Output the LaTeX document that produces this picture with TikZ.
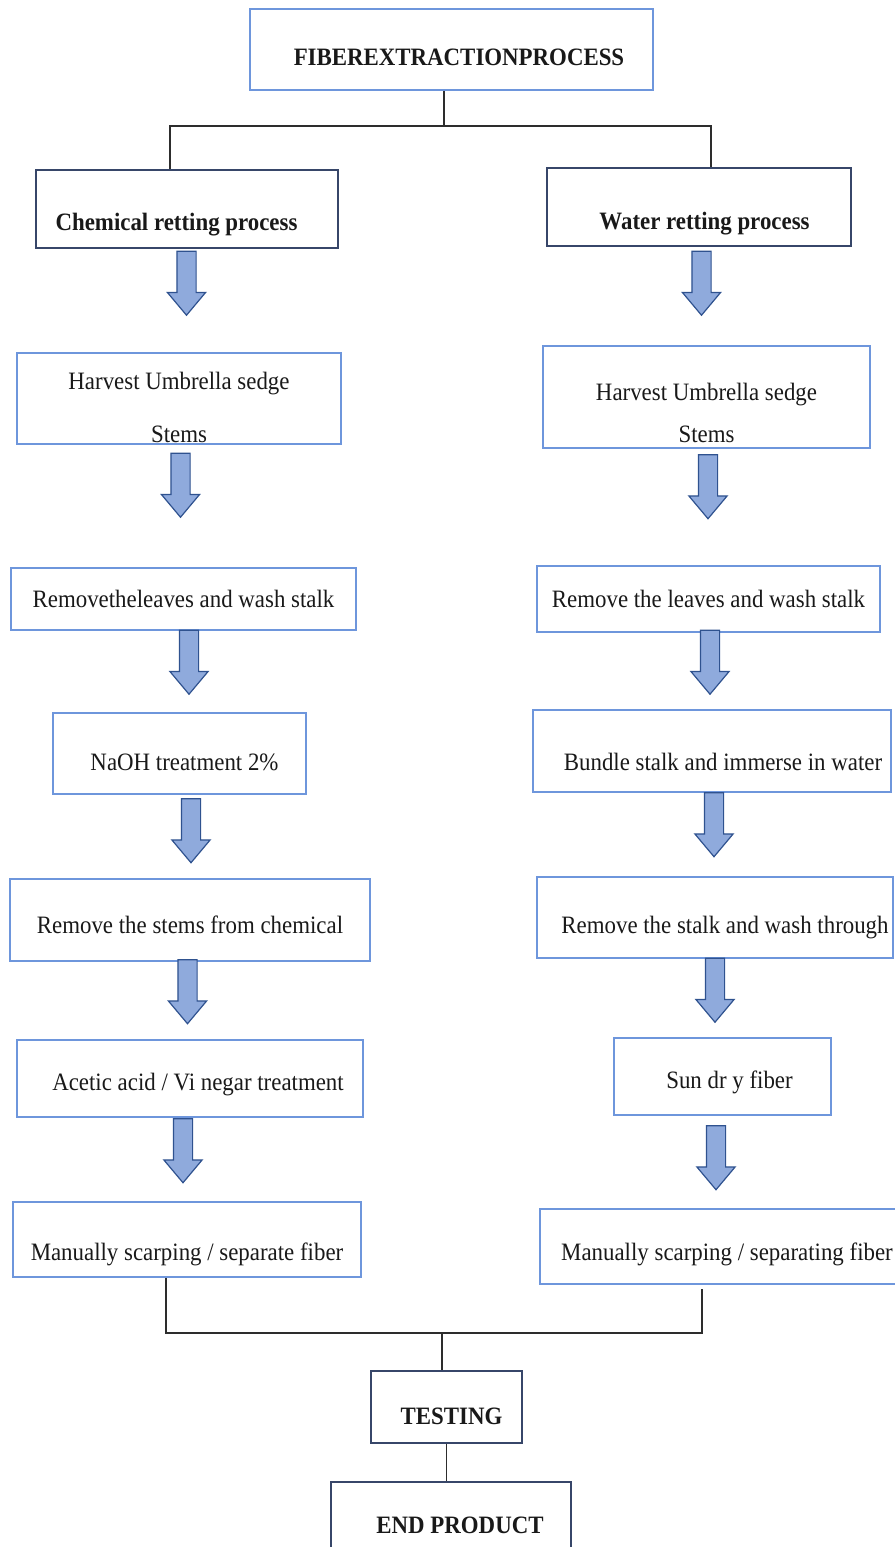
\documentclass[tikz,border=0pt]{standalone}
\usepackage{fontspec}
\setmainfont{Liberation Serif}[FakeStretch=0.915]
\usepackage{xcolor}
\usetikzlibrary{shapes, arrows, positioning, calc}

\definecolor{boxblue}{RGB}{110,150,220}
\definecolor{boxnavy}{RGB}{55,70,105}
\definecolor{arrfill}{RGB}{143,170,220}
\definecolor{arrline}{RGB}{47,82,143}
\definecolor{linegray}{RGB}{45,45,45}

\tikzset{
  every node/.style={font=\fontsize{25pt}{30pt}\selectfont, text=black!90},
  lightbox/.style={draw=boxblue, line width=1.6pt, inner sep=0pt},
  darkbox/.style={draw=boxnavy, line width=1.8pt, inner sep=0pt},
  boxsize/.style 2 args={minimum width=#1pt, minimum height=#2pt},
  drop/.code={\pgfmathsetmacro\dropup{28+#1}\pgfmathsetmacro\dropdn{28-#1}%
    \edef\droptmp{\noexpand\tikzset{text height=\dropup pt, text depth=\dropdn pt}}\droptmp},
  downarr/.style={single arrow, draw=arrline, fill=arrfill, line width=1.2pt, rotate=-90,
    inner sep=9pt, minimum height=64pt, minimum width=37pt,
    single arrow head extend=9.5pt, single arrow tip angle=80},
  link/.style={draw=linegray, line width=1.6pt},
}

\begin{document}
\begin{tikzpicture}[x=1pt, y=-1pt]
  \useasboundingbox (0,0) rectangle (894,1547);

  % title and the two branches
  \node[lightbox, boxsize={403}{81}, drop=15.5] (top) at (451.5,49.5) {\hspace*{15pt}\textbf{FIBEREXTRACTIONPROCESS}};
  \node[darkbox, boxsize={302}{78}, drop=21] (chem) at (187,209) {\textbf{Chemical retting process}\hspace*{21pt}};
  \node[darkbox, boxsize={304}{78}, drop=22] (water) at (699,207) {\hspace*{11pt}\textbf{Water retting process}};

  \coordinate (split) at (444,126);
  \draw[link] (top.south -| split) -- (split);
  \draw[link] ([xshift=-17pt]chem.north) |- (split) -| ([xshift=12pt]water.north);

  % chemical retting
  \node[lightbox, boxsize={324}{91}, drop=-9.5] (harvL) at (179,398.5) {\begin{tabular}[t]{@{}c@{}}Harvest Umbrella sedge\\[23pt]Stems\end{tabular}};
  \node[lightbox, boxsize={345}{62}, drop=8] (remL) at (183.5,599) {Removetheleaves and wash stalk};
  \node[lightbox, boxsize={253}{81}, drop=16.5] (naoh) at (179.5,753.5) {\hspace*{10pt}NaOH treatment 2\%};
  \node[lightbox, boxsize={360}{82}, drop=13] (remstem) at (190,920) {Remove the stems from chemical};
  \node[lightbox, boxsize={346}{77}, drop=11.5] (acetic) at (190,1078.5) {\hspace*{16pt}Acetic acid / Vi negar treatment};
  \node[lightbox, boxsize={348}{75}, drop=20.5] (manL) at (187,1239.5) {Manually scarping / separate fiber};

  \node[downarr] (a1L) at (186.5,277.5) {};
  \node[downarr] (a2L) at (180.5,479.5) {};
  \node[downarr] (a3L) at (189,656.5) {};
  \node[downarr] (a4L) at (191,825) {};
  \node[downarr] (a5L) at (187.5,986) {};
  \node[downarr] (a6L) at (183,1145) {};

  % water retting
  \node[lightbox, boxsize={327}{102}, drop=3] (harvR) at (706.5,397) {\begin{tabular}[t]{@{}c@{}}Harvest Umbrella sedge\\[12pt]Stems\end{tabular}};
  \node[lightbox, boxsize={343}{66}, drop=8] (remR) at (708.5,599) {Remove the leaves and wash stalk};
  \node[lightbox, boxsize={358}{82}, drop=19] (bundle) at (712,751) {\hspace*{22pt}Bundle stalk and immerse in water};
  \node[lightbox, boxsize={356}{81}, drop=15.5] (remstalk) at (715,917.5) {\hspace*{20pt}Remove the stalk and wash through};
  \node[lightbox, boxsize={217}{77}, drop=11.5] (sundry) at (722.5,1076.5) {\hspace*{14pt}Sun dr y fiber};
  \node[lightbox, boxsize={360}{75}, drop=13.5] (manR) at (720,1246.5) {\hspace*{14pt}Manually scarping / separating fiber};

  \node[downarr] (a1R) at (701.5,277.5) {};
  \node[downarr] (a2R) at (708,481) {};
  \node[downarr] (a3R) at (710,656.5) {};
  \node[downarr] (a4R) at (714,819) {};
  \node[downarr] (a5R) at (715,984.5) {};
  \node[downarr] (a6R) at (716,1152) {};

  % joining both lines
  \node[darkbox, boxsize={151}{72}, drop=17] (test) at (446.5,1407) {\hspace*{10pt}\textbf{TESTING}};
  \node[darkbox, boxsize={240}{80}, drop=11] (endp) at (451,1522) {\hspace*{18pt}\textbf{END PRODUCT}};

  \coordinate (join) at (442,1333);
  \draw[link] ([xshift=-21pt]manL.south) |- (join) -| ([xshift=-18pt,yshift=-4pt]manR.south);
  \draw[link] (join) -- (join |- test.north);
  \draw[link] (test.south) -- (test.south |- endp.north);
\end{tikzpicture}
\end{document}
